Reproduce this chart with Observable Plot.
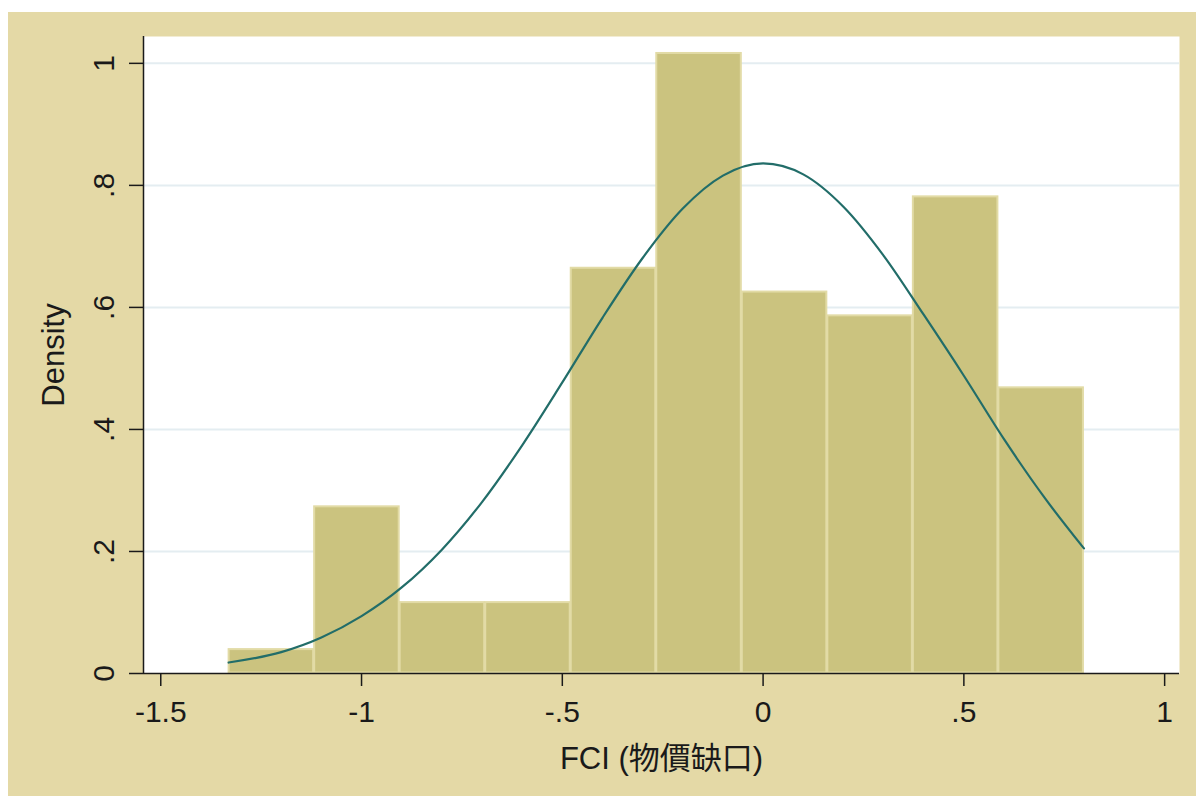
<!DOCTYPE html>
<html>
<head>
<meta charset="utf-8">
<script src="https://cdn.jsdelivr.net/npm/d3@7"></script>
<script src="https://cdn.jsdelivr.net/npm/@observablehq/plot@0.6"></script>
<style>
  html, body { margin: 0; padding: 0; background: #ffffff; }
  #chart { position: absolute; left: 8px; top: 12px; width: 1188px; height: 784px; background: #e4d9a6; }
</style>
</head>
<body>
<div id="chart"></div>
<script>
// Histogram of FCI: bin edges and bar densities
const binEdges = [-1.331, -1.118, -0.905, -0.692, -0.479, -0.266, -0.053, 0.160, 0.373, 0.586, 0.799];
const binDensity = [0.040, 0.274, 0.117, 0.117, 0.665, 1.017, 0.626, 0.587, 0.782, 0.469];

// Overlaid normal density curve
const curveX = [-1.331, -1.2, -1.1, -1.0, -0.9, -0.8, -0.7, -0.6, -0.5, -0.4, -0.3, -0.2, -0.1, 0.0, 0.1, 0.2, 0.3, 0.4, 0.5, 0.6, 0.7, 0.799];
const curveY = [0.018, 0.035, 0.059, 0.094, 0.141, 0.203, 0.281, 0.374, 0.477, 0.583, 0.681, 0.762, 0.816, 0.836, 0.818, 0.765, 0.685, 0.588, 0.488, 0.384, 0.289, 0.205];

// Axis ticks
const xTicks = [-1.5, -1, -0.5, 0, 0.5, 1];
const yTicks = [0, 0.2, 0.4, 0.6, 0.8, 1];
const xDomain = [-1.543, 1.037];
const yDomain = [0, 1.044];

const xTitle = "FCI (物價缺口)";
const yTitle = "Density";

// Stata-style numbers: drop the leading zero (".5", "-.5")
const fmt = d => d === 0 ? "0" : String(d).replace(/^(-?)0\./, "$1.");

const bins = binDensity.map((v, i) => ({x0: binEdges[i], x1: binEdges[i + 1], density: v}));
const curve = curveX.map((x, i) => ({x, y: curveY[i]}));

const ink = "#1a1a1a";
const chart = Plot.plot({
  width: 1188,
  height: 784,
  marginLeft: 135,
  marginRight: 17,
  marginTop: 24,
  marginBottom: 123,
  x: {domain: xDomain},
  y: {domain: yDomain},
  style: {
    background: "transparent",
    fontFamily: "'Liberation Sans', Arial, 'Noto Sans CJK TC', sans-serif",
    color: ink
  },
  marks: [
    Plot.frame({fill: "#ffffff", stroke: "none"}),
    Plot.gridY(yTicks.filter(d => d > 0), {stroke: "#e4edf1", strokeOpacity: 1, strokeWidth: 2}),
    Plot.rectY(bins, {x1: "x0", x2: "x1", y: "density", fill: "#cbc37f", stroke: "#e2dba6", strokeWidth: 2, inset: 0.5}),
    Plot.line(curve, {x: "x", y: "y", stroke: "#226d69", strokeWidth: 2.2, curve: "monotone-x"}),
    Plot.ruleY([0], {stroke: ink, strokeWidth: 1.5}),
    Plot.ruleX([xDomain[0]], {stroke: ink, strokeWidth: 1.5}),
    Plot.axisX({ticks: xTicks, tickFormat: fmt, tickSize: 13, tickPadding: 14, fontSize: 30, label: null, strokeWidth: 1.5}),
    Plot.axisY({ticks: yTicks, tickFormat: () => "", tickSize: 14, label: null, strokeWidth: 1.5}),
    Plot.text(yTicks, {x: xDomain[0], y: d => d, text: fmt, rotate: -90, dx: -30, lineAnchor: "bottom", textAnchor: "middle", fontSize: 30, fill: ink}),
    Plot.text([yTitle], {frameAnchor: "left", rotate: -90, dx: -80, lineAnchor: "bottom", textAnchor: "middle", fontSize: 31, fill: ink}),
    Plot.text([xTitle], {frameAnchor: "bottom", dy: 95, lineAnchor: "bottom", textAnchor: "middle", fontSize: 31, fill: ink})
  ]
});
document.getElementById("chart").appendChild(chart);
</script>
</body>
</html>
